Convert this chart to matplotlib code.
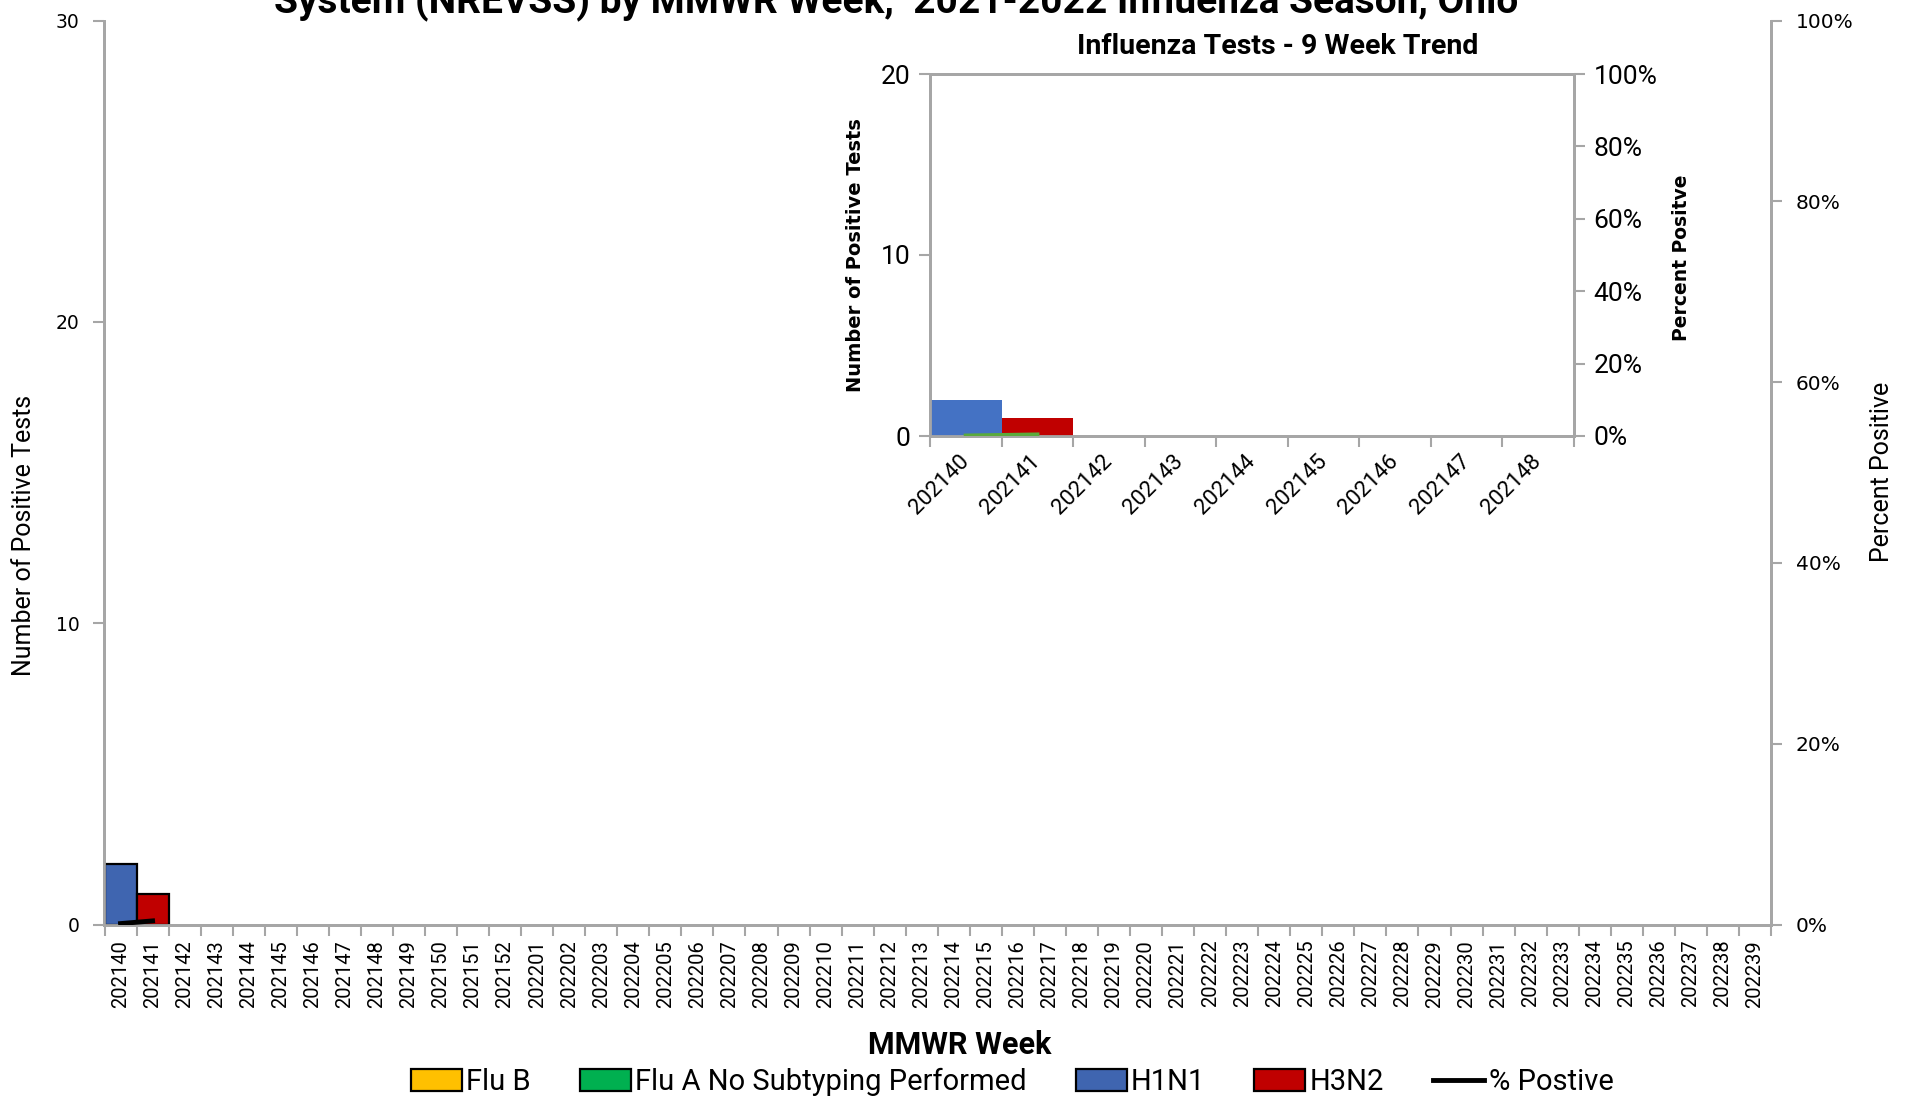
import matplotlib
matplotlib.use("Agg")
import matplotlib.pyplot as plt
from matplotlib import font_manager
from matplotlib.patches import Patch
from matplotlib.lines import Line2D
from matplotlib.ticker import FuncFormatter
import numpy as np

# ---------------- data ----------------
weeks = [f"2021{w}" for w in range(40, 53)] + [f"2022{w:02d}" for w in range(1, 40)]
flu_b = [0] * len(weeks)
flu_a_nosub = [0] * len(weeks)
h1n1 = [2, 0] + [0] * (len(weeks) - 2)
h3n2 = [0, 1] + [0] * (len(weeks) - 2)
pct_positive = [0.1, 0.4] + [None] * (len(weeks) - 2)  # percent

trend_weeks = weeks[:9]
trend_flu_b = flu_b[:9]
trend_flu_a = flu_a_nosub[:9]
trend_h1n1 = h1n1[:9]
trend_h3n2 = h3n2[:9]
trend_pct = pct_positive[:9]

series_names = ["Flu B", "Flu A No Subtyping Performed", "H1N1", "H3N2"]
line_name = "% Postive"
title_text = "System (NREVSS) by MMWR Week,  2021-2022 Influenza Season, Ohio"
inset_title = "Influenza Tests - 9 Week Trend"

# ---------------- fonts ----------------
def pick(names):
    for n in names:
        try:
            font_manager.findfont(n, fallback_to_default=False)
            return n
        except Exception:
            pass
    return "DejaVu Sans"

NARROW = pick(["Liberation Sans Narrow", "Roboto", "Liberation Sans"])
WIDE = "DejaVu Sans"

col_b = "#FFC000"
col_a = "#00B050"
col_h1 = "#3F65B0"
col_h3 = "#C00000"
col_h1_in = "#4472C4"
spine_col = "#A6A6A6"

W, H = 1906, 1099
fig = plt.figure(figsize=(W / 100, H / 100), dpi=100)

def rect(l, t, r, b):
    return [l / W, 1 - b / H, (r - l) / W, (b - t) / H]

# ---------------- main chart ----------------
ax = fig.add_axes(rect(104.5, 20.7, 1771, 924.5))
x = np.arange(len(weeks))
bottom = np.zeros(len(weeks))
for vals, c in zip([flu_b, flu_a_nosub, h1n1, h3n2], [col_b, col_a, col_h1, col_h3]):
    v = np.array(vals, dtype=float)
    lw = np.where(v > 0, 1.6, 0.0)
    ax.bar(x, v, width=1.0, bottom=bottom, color=c, edgecolor="black",
           linewidth=lw, zorder=3)
    bottom += v

ax.set_xlim(-0.5, len(weeks) - 0.5)
ax.set_ylim(0, 30)
ax.set_yticks([0, 10, 20, 30])
ax.set_xticks(x)
ax.set_xticklabels(weeks, rotation=90, fontfamily=NARROW, fontsize=14.5)
ax.set_xticks(np.arange(-0.5, len(weeks)), minor=True)
ax.tick_params(axis="x", which="major", length=0, pad=11)
ax.tick_params(axis="x", which="minor", length=8, color=spine_col, width=1.5)
ax.tick_params(axis="y", length=8, color=spine_col, width=1.5, pad=10)
for lab in ax.get_yticklabels():
    lab.set_fontfamily(WIDE)
    lab.set_fontsize(13.5)
for s in ["top"]:
    ax.spines[s].set_visible(False)
for s in ["left", "bottom", "right"]:
    ax.spines[s].set_color(spine_col)
    ax.spines[s].set_linewidth(2)

ax2 = ax.twinx()
pv = np.array([np.nan if p is None else p for p in pct_positive], dtype=float)
ax2.plot(x, pv / 100.0, color="black", linewidth=3.5, zorder=5)
ax2.set_ylim(0, 1)
ax2.set_yticks(np.arange(0, 1.01, 0.2))
ax2.yaxis.set_major_formatter(FuncFormatter(lambda v, p: f"{v*100:.0f}%"))
ax2.tick_params(axis="y", length=8, color=spine_col, width=1.5, pad=10)
for lab in ax2.get_yticklabels():
    lab.set_fontfamily(WIDE)
    lab.set_fontsize(14.5)
ax2.spines["top"].set_visible(False)
for s in ["left", "bottom", "right"]:
    ax2.spines[s].set_color(spine_col)
    ax2.spines[s].set_linewidth(2)

fig.text(24 / W, 1 - 535 / H, "Number of Positive Tests", rotation=90,
         ha="center", va="center", fontfamily=NARROW, fontsize=18)
fig.text(1882 / W, 1 - 472 / H, "Percent Positive", rotation=90,
         ha="center", va="center", fontfamily=NARROW, fontsize=18)
fig.text(960 / W, 1 - 1045 / H, "MMWR Week", ha="center", va="center",
         fontfamily=NARROW, fontweight="bold", fontsize=22)
fig.text(896 / W, 1 - 13 / H, title_text, ha="center", va="baseline",
         fontfamily=NARROW, fontweight="bold", fontsize=28)

handles = [Patch(facecolor=c, edgecolor="black", linewidth=1.6)
           for c in [col_b, col_a, col_h1, col_h3]]
handles.append(Line2D([0], [0], color="black", linewidth=3.5))
fig.legend(handles, series_names + [line_name], loc="center",
           bbox_to_anchor=(1012 / W, 1 - 1082 / H), ncol=5, frameon=False,
           prop={"family": NARROW, "size": 21}, handlelength=1.75,
           handleheight=0.75, handletextpad=0.15, columnspacing=1.68,
           borderpad=0, borderaxespad=0)

# ---------------- inset ----------------
ai = fig.add_axes(rect(930, 74, 1574, 436))
xi = np.arange(len(trend_weeks))
bottom = np.zeros(len(trend_weeks))
for vals, c in zip([trend_flu_b, trend_flu_a, trend_h1n1, trend_h3n2],
                   [col_b, col_a, col_h1_in, col_h3]):
    v = np.array(vals, dtype=float)
    ai.bar(xi, v, width=1.0, bottom=bottom, color=c, linewidth=0, zorder=3)
    bottom += v
ai.set_xlim(-0.5, len(trend_weeks) - 0.5)
ai.set_ylim(0, 20)
ai.set_yticks([0, 10, 20])
ai.set_xticks(xi)
ai.set_xticklabels(trend_weeks, rotation=45, ha="right", va="center",
                   rotation_mode="anchor", fontfamily=NARROW, fontsize=16)
ai.set_xticks(np.arange(-0.5, len(trend_weeks)), minor=True)
ai.tick_params(axis="x", which="major", length=0, pad=16)
ai.tick_params(axis="x", which="minor", length=8, color=spine_col, width=1.5)
ai.tick_params(axis="y", length=8, color=spine_col, width=1.5, pad=6)
for lab in ai.get_yticklabels():
    lab.set_fontfamily(NARROW)
    lab.set_fontsize(19)
for s in ai.spines.values():
    s.set_color(spine_col)
    s.set_linewidth(2)

ai2 = ai.twinx()
tv = np.array([np.nan if p is None else p for p in trend_pct], dtype=float)
ai2.plot(xi, tv / 100.0, color="#5BAA3C", linewidth=3, zorder=5)
ai2.set_ylim(0, 1)
ai2.set_yticks(np.arange(0, 1.01, 0.2))
ai2.yaxis.set_major_formatter(FuncFormatter(lambda v, p: f"{v*100:.0f}%"))
ai2.tick_params(axis="y", length=8, color=spine_col, width=1.5, pad=6)
for lab in ai2.get_yticklabels():
    lab.set_fontfamily(NARROW)
    lab.set_fontsize(19)
for s in ai2.spines.values():
    s.set_color(spine_col)
    s.set_linewidth(2)

fig.text(1278 / W, 1 - 46 / H, inset_title, ha="center", va="center",
         fontfamily=NARROW, fontweight="bold", fontsize=20.5)
fig.text(856 / W, 1 - 255 / H, "Number of Positive Tests", rotation=90,
         ha="center", va="center", fontfamily=WIDE, fontweight="bold", fontsize=14)
fig.text(1682 / W, 1 - 258 / H, "Percent Positve", rotation=90,
         ha="center", va="center", fontfamily=WIDE, fontweight="bold", fontsize=13.5)

fig.savefig("out.png", dpi=100, facecolor="white")
